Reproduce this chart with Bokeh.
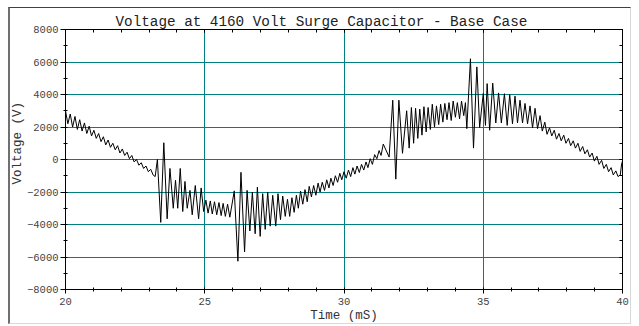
from bokeh.plotting import figure
from bokeh.models import LinearAxis, SingleIntervalTicker, CustomJSTickFormatter, Range1d, Title
from bokeh.embed import file_html
from bokeh.resources import INLINE

# ---- data ----
time_ms = [
    20.00, 20.085, 20.17, 20.255, 20.34, 20.425, 20.51, 20.595, 20.68, 20.765,
    20.85, 20.935, 21.02, 21.105, 21.19, 21.275, 21.36, 21.445, 21.53, 21.615,
    21.70, 21.785, 21.87, 21.955, 22.04, 22.125, 22.21, 22.295, 22.38, 22.465,
    22.55, 22.635, 22.72, 22.805, 22.89, 22.975, 23.06, 23.145, 23.22, 23.30,
    23.42, 23.53, 23.65, 23.75, 23.87, 23.95, 24.03, 24.12, 24.21, 24.29,
    24.37, 24.47, 24.55, 24.66, 24.78, 24.87, 24.96,
    25.04, 25.12, 25.20, 25.27, 25.35, 25.43, 25.51, 25.59, 25.66, 25.74,
    25.82, 25.90,
    26.06, 26.19, 26.30, 26.43, 26.52, 26.62, 26.71, 26.81, 26.89, 26.99,
    27.08, 27.17, 27.26, 27.35, 27.44, 27.55, 27.63, 27.72, 27.80, 27.89,
    27.97, 28.05, 28.13, 28.21, 28.29, 28.36, 28.44, 28.52, 28.60, 28.68,
    28.75, 28.83, 28.91, 28.99, 29.07, 29.14, 29.22, 29.30, 29.38, 29.46,
    29.53, 29.61, 29.69, 29.77, 29.85, 29.92, 30.00, 30.08,
    30.16, 30.24, 30.32, 30.39, 30.47, 30.55, 30.63, 30.71, 30.79, 30.86,
    30.94, 31.02, 31.10, 31.18, 31.26, 31.33, 31.41, 31.62,
    31.75, 31.86, 31.97, 32.10, 32.25, 32.34, 32.42, 32.50, 32.57, 32.65,
    32.72, 32.80, 32.87, 32.95, 33.02, 33.10, 33.17, 33.25, 33.32, 33.40,
    33.47, 33.55, 33.62, 33.70, 33.77, 33.85, 33.92, 34.00, 34.07, 34.15,
    34.22, 34.30, 34.36,
    34.41, 34.54, 34.65, 34.77, 34.87, 35.00, 35.08, 35.14, 35.23, 35.34,
    35.45, 35.55, 35.65, 35.76, 35.86, 35.95, 36.05, 36.14, 36.23, 36.32,
    36.41, 36.50, 36.59, 36.68, 36.77, 36.86, 36.95, 37.04, 37.12, 37.21,
    37.29, 37.38, 37.46, 37.55, 37.63, 37.72, 37.80, 37.89, 37.97, 38.06,
    38.14, 38.23, 38.31, 38.40, 38.48, 38.57, 38.65, 38.74, 38.82, 38.91,
    38.99, 39.08, 39.16, 39.25, 39.33, 39.42, 39.50, 39.59, 39.67, 39.76,
    39.84, 39.92, 39.97, 40.00,
]

voltage_v = [
    3000, 2200, 2800, 2000, 2650, 1850, 2450, 1750, 2250, 1600,
    2050, 1450, 1800, 1300, 1600, 1100, 1400, 900, 1200, 750,
    1000, 600, 850, 400, 650, 250, 450, 50, 250, -150,
    0, -350, -200, -550, -400, -750, -600, -950, -1050, 0,
    -3870, 1030, -3650, -550, -3000, -1280, -3000, -550, -3200, -1350,
    -3000, -1900, -3400, -1600, -3650, -1750, -3200,
    -2500, -3300, -2550, -3350, -2600, -3400, -2650, -3450, -2700, -3500,
    -2750, -3550,
    -1930, -6260, -790, -5690, -1900, -4400, -2000, -4570, -1700, -4730,
    -2100, -4300, -2000, -4100, -2200, -4100, -2100, -3700, -2250, -3500,
    -2450, -3500, -2350, -3250, -2200, -3000, -1950, -2750, -1850, -2600,
    -1650, -2300, -1600, -2200, -1450, -2000, -1400, -1900, -1250, -1750,
    -1150, -1600, -1000, -1400, -850, -1250, -750, -1150,
    -650, -1050, -500, -900, -400, -800, -300, -650, -150, -500,
    50, -300, 300, 50, 550, 250, 950, 150,
    3650, -1210, 3650, 380, 3000, 700, 3200, 1000, 3150, 1300,
    3100, 1500, 3250, 1700, 3200, 1850, 3400, 2000, 3300, 2150,
    3400, 2300, 3450, 2450, 3500, 2400, 3600, 2600, 3500, 2500,
    3600, 2700, 3500,
    1900, 6200, 700, 5700, 1970, 4060, 2100, 4670, 1800, 4700,
    2250, 4100, 2250, 4050, 2100, 4000, 2200, 3900, 2250, 3650,
    2250, 3450, 2200, 3300, 1950, 3150, 1900, 2700, 1750, 2300,
    1550, 1950, 1450, 1800, 1250, 1600, 1150, 1500, 1000, 1300,
    850, 1150, 700, 1000, 500, 800, 350, 600, 150, 400,
    -100, 200, -300, -50, -550, -300, -750, -500, -950, -700,
    -1050, -950, -250, -100,
]

x_start, x_end = 20, 40
y_start, y_end = -8000, 8000
x_tick_step = 5
y_tick_step = 2000

FONT = "Liberation Mono"
GRID = "#008080"

p = figure(
    width=623, height=317,
    x_range=Range1d(x_start, x_end), y_range=Range1d(y_start, y_end),
    output_backend="svg", toolbar_location=None,
    min_border_left=55, min_border_right=11, min_border_top=21, min_border_bottom=35,
    background_fill_color="white", border_fill_color="white",
)
p.styles = {
    "margin-left": "8px", "margin-top": "7px",
    "border-top": "1px solid #404040", "border-left": "2px solid #707070",
    "border-bottom": "1px solid #d8d8d8", "border-right": "1px solid #d8d8d8",
}

p.title.text = "Voltage at 4160 Volt Surge Capacitor - Base Case"
p.title.text_font = FONT
p.title.text_font_size = "14.3px"
p.title.text_font_style = "normal"
p.title.text_color = "#222222"
p.title.align = "left"
p.title.vertical_align = "top"
p.title.offset = 50
p.title.standoff = -4

xt = SingleIntervalTicker(interval=x_tick_step, num_minor_ticks=5)
yt = SingleIntervalTicker(interval=y_tick_step, num_minor_ticks=2)

p.xaxis.ticker = xt
p.yaxis.ticker = yt
p.xgrid.ticker = xt
p.ygrid.ticker = yt
p.xgrid.grid_line_color = GRID
p.ygrid.grid_line_color = GRID
p.xgrid.grid_line_width = 1
p.ygrid.grid_line_width = 1

p.xaxis.axis_label = "Time (mS)"
for ax in (p.xaxis[0], p.yaxis[0]):
    ax.axis_label_text_font = FONT
    ax.axis_label_text_font_size = "12.5px"
    ax.axis_label_text_font_style = "normal"
    ax.axis_label_text_color = "#333333"
    ax.major_label_text_font = FONT
    ax.major_label_text_font_size = "10.5px"
    ax.major_label_text_color = "#444444"
    ax.axis_line_color = "black"
    ax.major_tick_line_color = "black"
    ax.minor_tick_line_color = "black"
    ax.minor_tick_in = 2
    ax.minor_tick_out = 2
    ax.major_tick_in = 0

p.xaxis.major_tick_out = 4
p.xaxis.major_label_standoff = 4
p.xaxis.axis_label_standoff = 1
p.yaxis.major_tick_out = 5
p.yaxis.major_label_standoff = 2
p.yaxis.axis_label_standoff = 0

ylabel = Title(text="Voltage (V)", align="left", offset=105, standoff=-3,
               text_font=FONT, text_font_size="12.5px", text_font_style="normal",
               text_color="#333333")
p.add_layout(ylabel, "left")

top_axis = LinearAxis(
    ticker=SingleIntervalTicker(interval=x_tick_step, num_minor_ticks=5),
    formatter=CustomJSTickFormatter(code="return ''"),
    major_tick_in=3, major_tick_out=0, minor_tick_in=3, minor_tick_out=0,
    major_label_standoff=0, axis_label_standoff=0,
    major_label_text_font_size="1px", axis_line_color="black",
)
right_axis = LinearAxis(
    ticker=SingleIntervalTicker(interval=y_tick_step, num_minor_ticks=2),
    formatter=CustomJSTickFormatter(code="return ''"),
    major_tick_in=3, major_tick_out=0, minor_tick_in=3, minor_tick_out=0,
    major_label_standoff=0, axis_label_standoff=0,
    major_label_text_font_size="1px", axis_line_color="black",
)
p.add_layout(top_axis, "above")
p.add_layout(right_axis, "right")

p.outline_line_color = "black"
p.outline_line_width = 1

p.line(time_ms, voltage_v, line_color="black", line_width=1.0)

open("out.html", "w").write(file_html(p, INLINE))
